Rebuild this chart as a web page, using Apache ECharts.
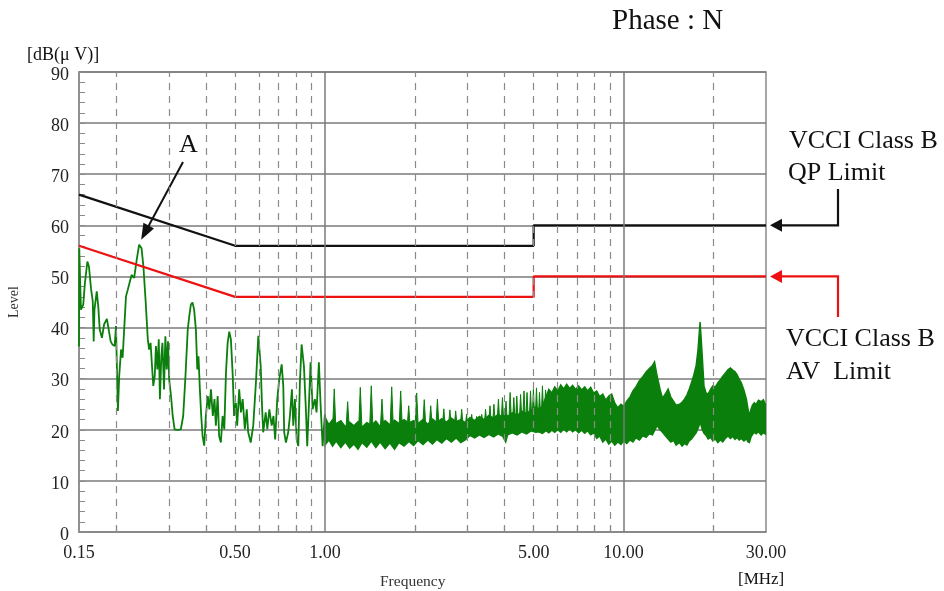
<!DOCTYPE html>
<html>
<head>
<meta charset="utf-8">
<script src="https://cdn.jsdelivr.net/npm/echarts@6/dist/echarts.min.js"></script>
<style>
  html, body { margin: 0; padding: 0; background: #fff; }
  #chart { width: 944px; height: 591px; }
</style>
</head>
<body>
<div id="chart"></div>
<script>
// Conducted emission scan, phase N, with VCCI Class B limits.

// Limit lines (MHz, dBuV)
const limitFreq = [0.15, 0.5, 5, 5, 30];
const qpLimit = [66, 56, 56, 60, 60];
const avLimit = [56, 46, 46, 50, 50];

// Measured trace below 1 MHz: [MHz, dBuV]
const tracePoints = [
  [0.150, 36.3], [0.1503, 55.5], [0.1515, 48.0], [0.1523, 43.5], [0.155, 44.5],
  [0.157, 48.7], [0.160, 52.9], [0.162, 51.9], [0.1645, 47.7], [0.1668, 45.1],
  [0.168, 37.3], [0.169, 43.5], [0.172, 47.1], [0.174, 44.2], [0.176, 39.6],
  [0.179, 38.0], [0.182, 40.6], [0.186, 41.7], [0.1886, 39.6], [0.1915, 37.3],
  [0.194, 36.7], [0.1975, 36.4], [0.1995, 40.3], [0.201, 31.8], [0.2025, 23.7],
  [0.2045, 30.5], [0.2075, 35.7], [0.210, 34.1], [0.2125, 39.6], [0.2155, 46.1],
  [0.2185, 47.4], [0.221, 47.1], [0.225, 50.3], [0.2295, 49.7], [0.234, 53.2],
  [0.2385, 56.2], [0.243, 55.5], [0.2465, 52.0], [0.251, 44.8], [0.255, 37.7],
  [0.2576, 35.7], [0.2605, 37.0], [0.263, 33.1], [0.266, 28.6], [0.269, 30.5],
  [0.2715, 36.4], [0.2745, 31.8], [0.2775, 37.7], [0.280, 26.0], [0.283, 34.4],
  [0.2855, 37.0], [0.289, 27.9], [0.292, 38.3], [0.295, 31.8], [0.298, 37.3],
  [0.3006, 29.9], [0.305, 26.6], [0.309, 22.7], [0.3135, 20.1], [0.321, 20.0],
  [0.329, 20.1], [0.335, 22.7], [0.3405, 29.9], [0.347, 39.6], [0.351, 42.2],
  [0.3555, 44.5], [0.360, 44.9], [0.3645, 43.5], [0.3695, 39.6], [0.3735, 31.8],
  [0.377, 34.4], [0.381, 27.9], [0.385, 22.7], [0.389, 18.8], [0.394, 16.9],
  [0.399, 22.7], [0.405, 26.6], [0.410, 24.0], [0.415, 27.9], [0.421, 22.7],
  [0.4265, 26.0], [0.431, 20.8], [0.437, 26.6], [0.442, 18.8], [0.448, 17.5],
  [0.454, 22.7], [0.460, 20.1], [0.466, 31.2], [0.472, 37.0], [0.478, 39.2],
  [0.484, 37.7], [0.491, 30.5], [0.496, 22.7], [0.503, 25.3], [0.508, 20.8],
  [0.516, 27.9], [0.523, 23.4], [0.530, 26.0], [0.539, 20.1], [0.547, 24.0],
  [0.553, 19.5], [0.564, 17.5], [0.575, 20.8], [0.587, 29.2], [0.598, 38.4],
  [0.609, 32.5], [0.616, 24.0], [0.621, 19.5], [0.633, 23.4], [0.641, 20.1],
  [0.651, 24.0], [0.663, 20.8], [0.672, 22.7], [0.681, 18.1], [0.692, 26.0],
  [0.703, 29.9], [0.716, 32.8], [0.725, 28.6], [0.730, 19.5], [0.740, 17.5],
  [0.753, 19.5], [0.763, 22.7], [0.775, 27.9], [0.783, 20.8], [0.793, 26.0],
  [0.804, 18.1], [0.814, 16.8], [0.824, 29.2], [0.835, 36.7], [0.850, 32.5],
  [0.863, 24.0], [0.872, 16.8], [0.885, 26.0], [0.895, 33.2], [0.909, 24.0],
  [0.925, 26.0], [0.937, 23.4], [0.954, 33.2], [0.967, 24.7], [0.982, 16.8],
  [0.999, 23.0], [1.012, 19.5]
];

// Harmonic spikes above the noise floor, 1 - 5.5 MHz: [MHz, peak dBuV]
const spikePoints = [
  [1.074, 28.0], [1.191, 25.5], [1.313, 28.3], [1.429, 28.6], [1.552, 26.0],
  [1.673, 28.4], [1.793, 27.6], [1.907, 24.7], [2.028, 27.2], [2.15, 25.9],
  [2.26, 24.7], [2.38, 26.0], [2.50, 24.1], [2.62, 23.9], [2.74, 23.7],
  [2.87, 24.0], [2.98, 23.0], [3.10, 23.0], [3.22, 22.6], [3.35, 23.0],
  [3.45, 24.0], [3.57, 24.7], [3.68, 25.0], [3.81, 26.0], [3.93, 26.3],
  [4.04, 25.6], [4.17, 27.3], [4.29, 26.3], [4.39, 26.6], [4.52, 26.9],
  [4.64, 27.6], [4.75, 27.3], [4.88, 27.6], [4.99, 27.9], [5.11, 28.2],
  [5.23, 27.3], [5.35, 28.6], [5.48, 27.8]
];
const spikeFloor = 20;

// Dense sweep envelope above 1 MHz: [MHz, min dBuV, max dBuV]
const bandRows = [
  [1.00, 17.0, 22.5], [1.03, 18.0, 21.0], [1.06, 16.8, 22.0], [1.09, 17.8, 21.2],
  [1.13, 16.5, 21.8], [1.17, 17.6, 20.6], [1.21, 16.4, 21.5], [1.25, 17.2, 20.8],
  [1.29, 16.2, 21.6], [1.33, 17.5, 20.5], [1.38, 16.6, 21.4], [1.43, 17.8, 20.9],
  [1.48, 16.5, 21.7], [1.53, 17.6, 20.6], [1.59, 16.3, 21.8], [1.65, 17.4, 21.0],
  [1.71, 16.2, 21.9], [1.77, 17.5, 21.2], [1.84, 16.8, 22.0], [1.91, 17.7, 21.3],
  [1.98, 16.9, 21.8], [2.05, 17.9, 21.2], [2.13, 17.1, 22.0], [2.21, 18.0, 21.1],
  [2.29, 17.2, 22.1], [2.37, 18.1, 21.4], [2.46, 17.4, 22.2], [2.55, 18.3, 21.5],
  [2.65, 17.6, 22.3], [2.75, 18.4, 21.6], [2.85, 17.5, 22.0], [2.95, 18.0, 21.4],
  [3.06, 18.9, 22.4], [3.17, 18.4, 21.8], [3.29, 19.0, 22.6], [3.41, 18.5, 22.0],
  [3.54, 19.1, 22.8], [3.67, 18.6, 22.3], [3.80, 19.2, 23.0], [3.94, 18.7, 22.5],
  [4.03, 17.6, 23.1], [4.09, 19.0, 22.6], [4.24, 19.4, 23.3], [4.40, 19.0, 22.8],
  [4.56, 19.6, 23.6], [4.73, 19.2, 23.2], [4.90, 19.8, 23.8], [5.08, 19.5, 24.5],
  [5.20, 19.6, 24.0], [5.35, 19.3, 24.6], [5.50, 19.8, 26.5], [5.62, 19.4, 27.9],
  [5.75, 19.9, 27.2], [5.88, 19.5, 28.4], [6.02, 20.0, 27.6], [6.16, 19.5, 28.8],
  [6.30, 20.1, 28.0], [6.45, 19.6, 28.9], [6.60, 20.2, 28.1], [6.75, 19.6, 28.7],
  [6.91, 20.0, 27.9], [7.07, 19.4, 28.6], [7.24, 19.9, 27.8], [7.41, 19.3, 28.4],
  [7.58, 19.8, 27.6], [7.76, 19.0, 28.3], [7.94, 19.4, 27.2], [8.13, 18.3, 27.6],
  [8.32, 18.8, 26.5], [8.52, 17.6, 27.0], [8.72, 18.2, 25.8], [8.92, 17.2, 26.6],
  [9.13, 17.8, 27.0], [9.35, 17.0, 25.2], [9.57, 17.6, 24.3], [9.80, 17.1, 25.0],
  [10.0, 17.8, 24.6], [10.25, 17.3, 25.6], [10.5, 18.0, 26.4], [10.75, 17.6, 27.6],
  [11.0, 18.4, 28.4], [11.3, 18.0, 29.6], [11.6, 18.8, 30.4], [11.9, 18.5, 31.3],
  [12.2, 19.2, 32.0], [12.5, 19.0, 32.6], [12.7, 19.8, 33.3], [12.95, 20.8, 30.6],
  [13.25, 20.0, 28.0], [13.5, 19.5, 26.2], [13.8, 18.8, 27.0], [14.1, 18.2, 28.0],
  [14.4, 17.6, 26.4], [14.7, 17.9, 25.6], [15.0, 17.0, 24.8], [15.4, 17.5, 25.0],
  [15.7, 16.8, 25.4], [16.0, 17.3, 26.0], [16.3, 17.0, 26.8], [16.6, 17.8, 28.0],
  [16.9, 18.2, 29.3], [17.2, 18.8, 30.8], [17.5, 19.4, 32.6], [17.75, 20.2, 35.6],
  [17.95, 21.0, 39.5], [18.05, 21.4, 41.1], [18.15, 21.0, 39.0], [18.35, 20.0, 34.5],
  [18.6, 19.3, 28.6], [18.9, 18.9, 27.2], [19.2, 18.2, 27.0], [19.6, 18.5, 28.0],
  [19.9, 17.8, 28.6], [20.3, 18.2, 28.4], [20.7, 17.5, 29.2], [21.1, 18.0, 29.8],
  [21.5, 17.6, 30.5], [22.0, 18.4, 31.2], [22.4, 18.8, 31.8], [22.8, 18.3, 32.1],
  [23.2, 18.7, 31.7], [23.6, 18.1, 31.4], [24.0, 18.5, 30.8], [24.4, 18.0, 29.9],
  [24.8, 18.3, 29.2], [25.3, 17.8, 27.8], [25.8, 18.2, 26.0], [26.1, 17.6, 24.2],
  [26.4, 17.5, 22.7], [26.7, 18.5, 24.0], [27.0, 19.0, 24.8], [27.4, 19.5, 25.3],
  [27.8, 19.2, 25.0], [28.3, 19.6, 25.8], [28.9, 19.0, 25.5], [29.4, 19.4, 25.9],
  [30.0, 19.1, 24.7]
];

// Axis ticks
const xLabelValues = [0.15, 0.5, 1, 5, 10, 30];
const xLabelText = ['0.15', '0.50', '1.00', '5.00', '10.00', '30.00'];
const xDashedLines = [0.2, 0.3, 0.4, 0.5, 0.6, 0.7, 0.8, 0.9, 2, 3, 4, 5, 6, 7, 8, 9, 20];
const xSolidLines = [1, 10];

// Marked peak "A"
const peakA = [0.2385, 56.2];

const GREEN = '#0b7f0b';
const SERIF = '"Liberation Serif", "Times New Roman", serif';

const chart = echarts.init(document.getElementById('chart'), null, { renderer: 'canvas' });

function labelFor(v) {
  let best = 0;
  xLabelValues.forEach((x, i) => {
    if (Math.abs(Math.log(x / v)) < Math.abs(Math.log(xLabelValues[best] / v))) best = i;
  });
  return xLabelText[best];
}

const option = {
  animation: false,
  backgroundColor: '#fff',
  grid: {
    left: 79, right: 178, top: 72, bottom: 59,
    containLabel: false, outerBoundsMode: 'none',
    show: true, borderColor: '#8a8a8a', borderWidth: 1.5, backgroundColor: 'transparent'
  },
  xAxis: {
    type: 'log', logBase: 10, min: 0.15, max: 30,
    axisLine: { show: true, lineStyle: { color: '#8a8a8a', width: 1.5 } },
    axisTick: { show: true, inside: true, length: 6, customValues: xDashedLines,
      lineStyle: { color: '#8a8a8a', width: 1.2 } },
    axisLabel: {
      show: true, customValues: xLabelValues, margin: 12,
      fontFamily: SERIF, fontSize: 18, color: '#222',
      formatter: (v) => labelFor(v)
    },
    splitLine: { show: false },
    minorTick: { show: false }
  },
  yAxis: {
    type: 'value', min: 0, max: 90, interval: 10,
    axisLine: { show: true, lineStyle: { color: '#8a8a8a', width: 1.5 } },
    axisTick: { show: true, inside: true, length: 6, lineStyle: { color: '#8a8a8a' } },
    minorTick: { show: true, splitNumber: 5, length: 6, lineStyle: { color: '#8a8a8a', width: 1 } },
    axisLabel: { fontFamily: SERIF, fontSize: 18, color: '#222', margin: 10,
      verticalAlign: 'top', lineHeight: 6 },
    splitLine: { show: true, lineStyle: { color: '#7a7a7a', width: 1.5 } },
    name: 'Level', nameLocation: 'middle', nameGap: 58, nameRotate: 90,
    nameTextStyle: { fontFamily: SERIF, fontSize: 14, color: '#333' }
  },
  series: [
    {
      // vertical grid lines
      type: 'line', data: [], z: 1, silent: true,
      markLine: {
        silent: true, symbol: ['none', 'none'], animation: false,
        label: { show: false },
        data: xDashedLines.map(v => ({ xAxis: v, lineStyle: { type: [7, 6], color: '#8a8a8a', width: 1.2 } }))
          .concat(xSolidLines.map(v => ({ xAxis: v, lineStyle: { type: 'solid', color: '#7a7a7a', width: 1.5 } })))
      }
    },
    {
      // dense sweep envelope
      type: 'custom', z: 2, silent: true, clip: true,
      data: [0],
      renderItem: function (params, api) {
        const top = bandRows.map(r => api.coord([r[0], r[2]]));
        const bottom = bandRows.map(r => api.coord([r[0], r[1]])).reverse();
        return {
          type: 'polygon',
          shape: { points: top.concat(bottom) },
          style: { fill: GREEN, stroke: GREEN, lineWidth: 1.4, lineJoin: 'miter' }
        };
      }
    },
    {
      // harmonic spikes
      type: 'custom', z: 2, silent: true, clip: true,
      data: spikePoints,
      renderItem: function (params, api) {
        const tip = api.coord([api.value(0), api.value(1)]);
        const base = api.coord([api.value(0), spikeFloor]);
        return {
          type: 'polygon',
          shape: { points: [[tip[0] - 1.7, base[1]], tip, [tip[0] + 1.7, base[1]]] },
          style: { fill: GREEN, stroke: GREEN, lineWidth: 1 }
        };
      }
    },
    {
      type: 'line', name: 'Level', z: 3, silent: true,
      data: tracePoints, showSymbol: false, smooth: false,
      lineStyle: { color: GREEN, width: 1.8 }
    },
    {
      type: 'line', name: 'VCCI Class B QP Limit', z: 4, silent: true,
      data: limitFreq.map((f, i) => [f, qpLimit[i]]), showSymbol: false,
      lineStyle: { color: '#111', width: 2.2 }
    },
    {
      type: 'line', name: 'VCCI Class B AV Limit', z: 4, silent: true,
      data: limitFreq.map((f, i) => [f, avLimit[i]]), showSymbol: false,
      lineStyle: { color: '#ee1111', width: 2.2 }
    }
  ]
};

chart.setOption(option);

function arrowHead(tip, from, len, half, color) {
  const dx = tip[0] - from[0], dy = tip[1] - from[1];
  const d = Math.hypot(dx, dy);
  const ux = dx / d, uy = dy / d;
  const bx = tip[0] - ux * len, by = tip[1] - uy * len;
  return {
    type: 'polygon', silent: true,
    shape: { points: [tip, [bx - uy * half, by + ux * half], [bx + uy * half, by - ux * half]] },
    style: { fill: color }
  };
}

function text(str, x, y, size, opts) {
  return Object.assign({
    type: 'text', x: x, y: y, silent: true,
    style: Object.assign({
      text: str, font: size + 'px ' + SERIF, fill: '#111',
      textAlign: 'left', textVerticalAlign: 'middle'
    }, (opts && opts.style) || {})
  }, (opts && opts.el) || {});
}

function placeAnnotations() {
  const qpEnd = chart.convertToPixel({ xAxisIndex: 0, yAxisIndex: 0 }, [limitFreq[4], qpLimit[4]]);
  const avEnd = chart.convertToPixel({ xAxisIndex: 0, yAxisIndex: 0 }, [limitFreq[4], avLimit[4]]);
  const peak = chart.convertToPixel({ xAxisIndex: 0, yAxisIndex: 0 }, peakA);

  const tipX = qpEnd[0] + 4;
  const elbowX = qpEnd[0] + 72;
  const qpTip = [tipX, qpEnd[1]];
  const avTip = [tipX, avEnd[1]];

  const aTip = [peak[0] + 2, peak[1] - 5];
  const aTail = [183, 162];

  const els = [
    text('Phase : N', 612, 21, 29),
    text('[dB(\u03bc V)]', 27, 55, 18),
    text('Frequency', 380, 582, 15.5, { style: { fill: '#333' } }),
    text('[MHz]', 738, 580, 17),

    // QP limit callout
    text('VCCI Class B', 789, 141, 26),
    text('QP Limit', 788, 173, 26),
    { type: 'polyline', silent: true,
      shape: { points: [[elbowX, 189], [elbowX, qpTip[1]], [tipX + 10, qpTip[1]]] },
      style: { stroke: '#111', lineWidth: 2.2, fill: null } },
    arrowHead(qpTip, [elbowX, qpTip[1]], 12, 6.5, '#111'),

    // AV limit callout
    text('VCCI Class B', 786, 339, 26),
    text('AV  Limit', 786, 372, 26),
    { type: 'polyline', silent: true,
      shape: { points: [[elbowX, 317], [elbowX, avTip[1]], [tipX + 10, avTip[1]]] },
      style: { stroke: '#ee1111', lineWidth: 2.2, fill: null } },
    arrowHead(avTip, [elbowX, avTip[1]], 12, 6.5, '#ee1111'),

    // peak A callout
    text('A', 188.5, 145, 26, { style: { textAlign: 'center' } }),
    { type: 'line', silent: true,
      shape: { x1: aTail[0], y1: aTail[1], x2: aTip[0] + (aTail[0] - aTip[0]) * 0.12, y2: aTip[1] + (aTail[1] - aTip[1]) * 0.12 },
      style: { stroke: '#111', lineWidth: 2 } },
    arrowHead(aTip, aTail, 16, 6, '#111')
  ];

  chart.setOption({ graphic: { elements: els } });
}

placeAnnotations();
</script>
</body>
</html>
